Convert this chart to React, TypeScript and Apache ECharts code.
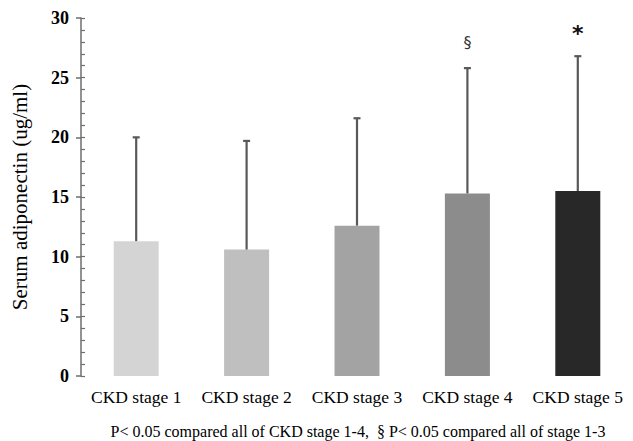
import React, { useEffect, useRef } from "react";
import * as echarts from "echarts";

const categories = ["CKD stage 1", "CKD stage 2", "CKD stage 3", "CKD stage 4", "CKD stage 5"];
const means = [11.3, 10.6, 12.6, 15.3, 15.5];
const upperErrors = [20.0, 19.7, 21.6, 25.8, 26.8];
const annotations = ["", "", "", "§", "*"];
const barColors = ["#d4d4d4", "#bfbfbf", "#a3a3a3", "#8c8c8c", "#282828"];
const yTicks = [0, 5, 10, 15, 20, 25, 30];
const footnote = "P< 0.05 compared all of CKD stage 1-4,  § P< 0.05 compared all of stage 1-3";

const FONT = "'Liberation Serif', 'Times New Roman', serif";

export default function App() {
  const ref = useRef<HTMLDivElement>(null);
  useEffect(() => {
    document.body.style.margin = "0";
    if (!ref.current) return;
    const chart = echarts.init(ref.current, undefined, { renderer: "svg" });
    const yMax = yTicks[yTicks.length - 1];
    chart.setOption({
      animation: false,
      grid: { left: 81, top: 18, bottom: 65, right: -10, containLabel: false },
      xAxis: {
        type: "category",
        data: categories,
        axisLine: { show: false },
        axisTick: { show: false },
        axisLabel: {
          interval: 0,
          hideOverlap: false,
          fontFamily: FONT,
          fontSize: 17.5,
          color: "#000",
          margin: 12,
        },
      },
      yAxis: [
        {
          type: "value",
          min: yTicks[0],
          max: yMax,
          interval: 5,
          name: "Serum adiponectin (ug/ml)",
          nameLocation: "middle",
          nameGap: 51,
          nameRotate: 90,
          nameTextStyle: { fontFamily: FONT, fontSize: 21, color: "#000" },
          axisLine: { show: true, lineStyle: { color: "#6e6e6e", width: 1.5 } },
          axisTick: { show: true, inside: false, length: 5, lineStyle: { color: "#6e6e6e", width: 1.5 } },
          axisLabel: { fontFamily: FONT, fontSize: 18, fontWeight: "bold", color: "#000", margin: 12 },
          splitLine: { show: false },
        },
        {
          type: "value",
          min: yTicks[0],
          max: yMax,
          interval: 1,
          position: "left",
          offset: 0,
          axisLine: { show: false },
          axisTick: { show: true, inside: true, length: 4, lineStyle: { color: "#6e6e6e", width: 1.2 } },
          axisLabel: { show: false },
          splitLine: { show: false },
        },
      ],
      series: [
        {
          type: "bar",
          yAxisIndex: 0,
          barWidth: 45,
          data: means.map((v, i) => ({ value: v, itemStyle: { color: barColors[i] } })),
        },
        {
          type: "custom",
          yAxisIndex: 0,
          data: means.map((v, i) => [i, v, upperErrors[i]]),
          z: 5,
          renderItem: (params: any, api: any) => {
            const i = api.value(0);
            const lo = api.coord([i, api.value(1)]);
            const hi = api.coord([i, api.value(2)]);
            const x = lo[0];
            const style = { stroke: "#595959", lineWidth: 2.2 };
            const children: any[] = [
              { type: "line", shape: { x1: x, y1: lo[1], x2: x, y2: hi[1] }, style },
              { type: "line", shape: { x1: x - 3.5, y1: hi[1], x2: x + 3.5, y2: hi[1] }, style },
            ];
            const ann = annotations[params.dataIndex];
            if (ann) {
              const isStar = ann === "*";
              children.push({
                type: "text",
                style: {
                  text: ann,
                  x: x,
                  y: hi[1] - (isStar ? 23 : 26),
                  align: "center",
                  verticalAlign: "middle",
                  fontFamily: "'DejaVu Sans', sans-serif",
                  fontSize: isStar ? 22 : 16,
                  fontWeight: isStar ? "bold" : "normal",
                  fill: isStar ? "#111" : "#333",
                },
              });
            }
            return { type: "group", children };
          },
        },
      ],
      graphic: [
        {
          type: "text",
          x: 358,
          y: 431,
          style: {
            text: footnote,
            align: "center",
            verticalAlign: "middle",
            fontFamily: FONT,
            fontSize: 16,
            fill: "#000",
          },
        },
      ],
    });
    return () => chart.dispose();
  }, []);
  return <div ref={ref} style={{ width: 633, height: 441 }} />;
}
